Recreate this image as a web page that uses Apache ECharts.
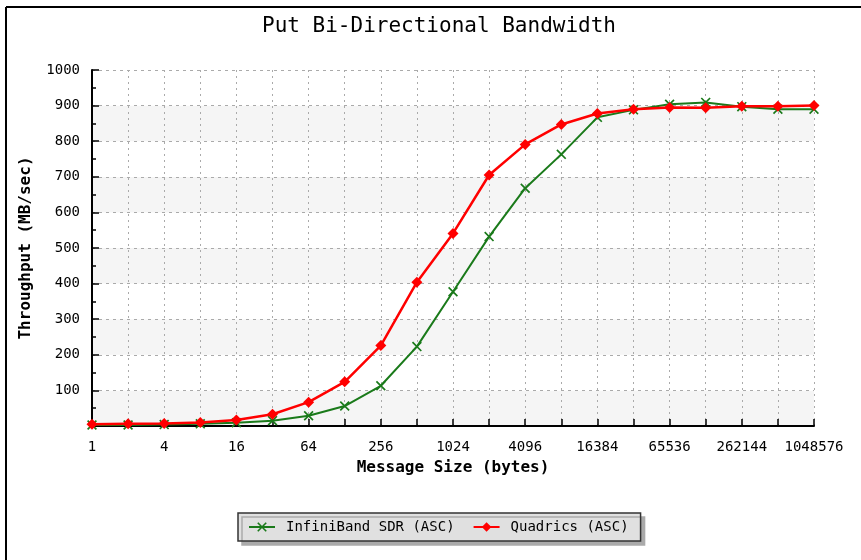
<!DOCTYPE html>
<html>
<head>
<meta charset="utf-8">
<script src="https://cdn.jsdelivr.net/npm/echarts@6/dist/echarts.min.js"></script>
<style>html,body{margin:0;padding:0;background:#fff}#c{width:861px;height:560px}</style>
</head>
<body>
<div id="c"></div>
<script>
const categories = ['1','2','4','8','16','32','64','128','256','512','1024','2048','4096','8192','16384','32768','65536','131072','262144','524288','1048576'];
const infinibandSDR = [3,3,4,6,9,15,29,56,113,223,377,532,668,763,867,888,904,909,897,890,890];
const quadrics = [5,6,7,10,17,33,67,124,226,404,541,705,791,847,878,890,895,894,898,898,900];
const yTicks = {min: 0, max: 1000, interval: 100};

const MONO = 'DejaVu Sans Mono';
const xPath = 'path://M0,1.2L1.2,0L10,8.8L8.8,10ZM8.8,0L10,1.2L1.2,10L0,8.8Z';

const chart = echarts.init(document.getElementById('c'), null, {renderer: 'canvas'});
chart.setOption({
  animation: false,
  backgroundColor: '#ffffff',
  graphic: [
    {type: 'line', shape: {x1: 6, y1: 7, x2: 861, y2: 7}, style: {stroke: '#000', lineWidth: 2}, z: 100},
    {type: 'line', shape: {x1: 6, y1: 7, x2: 6, y2: 560}, style: {stroke: '#000', lineWidth: 2}, z: 100},
    {type: 'text', x: 439, y: 16,
      style: {text: 'Put Bi-Directional Bandwidth', font: '21px "DejaVu Sans Mono"', fill: '#000', align: 'center', textAlign: 'center'}, z: 100}
  ],
  grid: {left: 92, right: 47, top: 70, bottom: 134, containLabel: false},
  legend: {
    left: 238, top: 513,
    padding: [7, 12, 7, 10],
    itemGap: 18,
    itemWidth: 26, itemHeight: 12,
    backgroundColor: '#e0e0e0',
    borderColor: '#333', borderWidth: 1.5, borderRadius: 0,
    shadowColor: '#aaaaaa', shadowBlur: 0, shadowOffsetX: 4, shadowOffsetY: 4,
    textStyle: {fontFamily: MONO, fontSize: 14, color: '#000', padding: [0, 0, 0, 6]},
    data: ['InfiniBand SDR (ASC)', 'Quadrics (ASC)']
  },
  xAxis: {
    type: 'category',
    data: categories,
    boundaryGap: false,
    name: 'Message Size (bytes)',
    nameLocation: 'middle',
    nameGap: 34,
    nameTextStyle: {fontFamily: MONO, fontSize: 16, fontWeight: 'bold', color: '#000'},
    axisLine: {lineStyle: {color: '#000', width: 2}},
    axisTick: {inside: true, interval: 0, length: 7, lineStyle: {color: '#000', width: 1.5}},
    axisLabel: {interval: 1, margin: 14, fontFamily: MONO, fontSize: 14, color: '#000'},
    splitLine: {show: true, interval: 0, lineStyle: {color: '#aaaaaa', type: [2, 4], width: 1}}
  },
  yAxis: {
    type: 'value',
    min: yTicks.min, max: yTicks.max, interval: yTicks.interval,
    name: 'Throughput (MB/sec)',
    nameLocation: 'middle',
    nameGap: 58,
    nameTextStyle: {fontFamily: MONO, fontSize: 16, fontWeight: 'bold', color: '#000'},
    axisLine: {show: true, lineStyle: {color: '#000', width: 2}},
    axisTick: {show: true, inside: true, length: 7, lineStyle: {color: '#000', width: 1.5}},
    minorTick: {show: true, splitNumber: 2, length: 4, lineStyle: {color: '#000', width: 1.5}},
    axisLabel: {margin: 12, fontFamily: MONO, fontSize: 14, color: '#000',
      formatter: v => v === 0 ? '' : String(v)},
    splitLine: {show: true, lineStyle: {color: '#aaaaaa', type: [3, 4], width: 1}},
    splitArea: {show: true, areaStyle: {color: ['#f5f5f5', '#ffffff']}}
  },
  series: [
    {
      name: 'InfiniBand SDR (ASC)',
      type: 'line',
      data: infinibandSDR,
      symbol: xPath,
      symbolSize: 10,
      showAllSymbol: true,
      lineStyle: {color: '#1a7a1a', width: 2},
      itemStyle: {color: '#1a7a1a'},
      z: 2
    },
    {
      name: 'Quadrics (ASC)',
      type: 'line',
      data: quadrics,
      symbol: 'diamond',
      symbolSize: 11,
      showAllSymbol: true,
      lineStyle: {color: '#ff0000', width: 2.5},
      itemStyle: {color: '#ff0000'},
      z: 3
    }
  ]
});
</script>
</body>
</html>
